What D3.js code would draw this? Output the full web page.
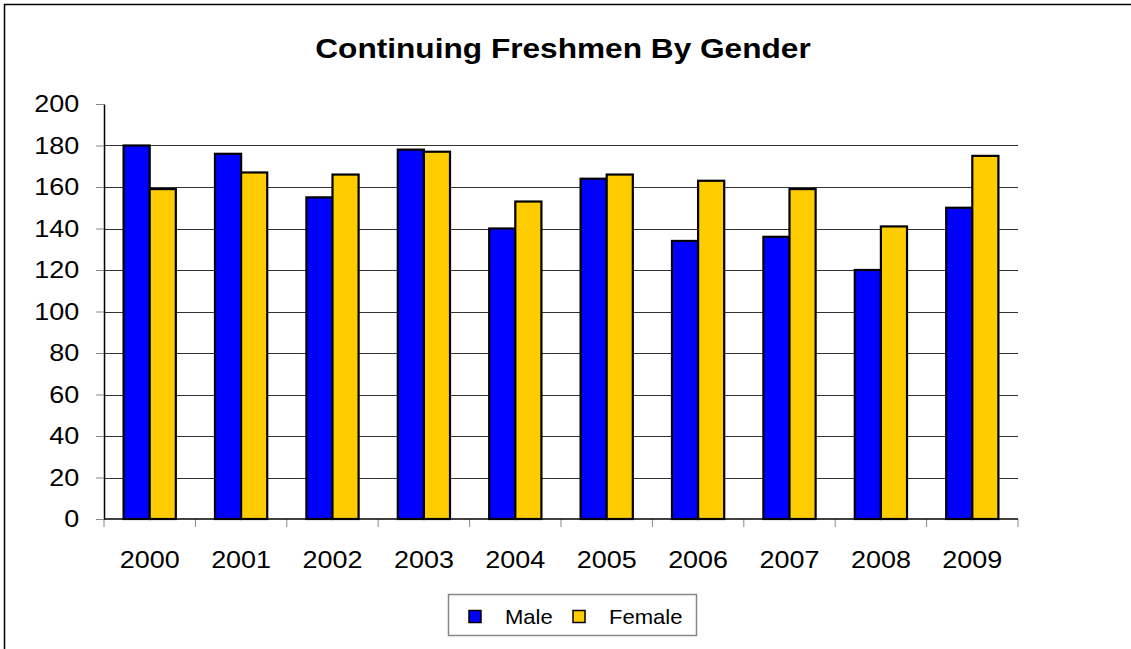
<!DOCTYPE html>
<html>
<head>
<meta charset="utf-8">
<script src="https://cdn.jsdelivr.net/npm/d3@7"></script>
<style>
  body { margin: 0; background: #fff; }
  text { font-family: "Liberation Sans", Arial, sans-serif; }
</style>
</head>
<body>
<div id="chart-area"></div>
<script>
// data
var years = ["2000", "2001", "2002", "2003", "2004", "2005", "2006", "2007", "2008", "2009"];
var series = ["Male", "Female"];
var male = [180, 176, 155, 178, 140, 164, 134, 136, 120, 150];
var female = [159, 167, 166, 177, 153, 166, 163, 159, 141, 175];
var yTicks = [0, 20, 40, 60, 80, 100, 120, 140, 160, 180, 200];
var colors = ["#0000ff", "#ffcc00"];

var W = 1131, H = 649;
var sx = 1.1; // original text is a bit wider than Liberation Sans

var margin = { left: 104, right: 113, top: 104, bottom: 130 };
var width = W - margin.left - margin.right;
var height = H - margin.top - margin.bottom;

var svg = d3.select("#chart-area").append("svg")
    .attr("width", W)
    .attr("height", H);

// outer frame (runs off the right and bottom)
svg.append("rect")
    .attr("x", 4.5).attr("y", 4.5)
    .attr("width", W + 10).attr("height", H + 10)
    .attr("fill", "none")
    .attr("stroke", "#000")
    .attr("stroke-width", 1.5);

// title
svg.append("text")
    .attr("transform", "translate(563, 58) scale(1.13,1)")
    .attr("text-anchor", "middle")
    .attr("font-size", "28px")
    .attr("font-weight", "bold")
    .text("Continuing Freshmen By Gender");

var g = svg.append("g")
    .attr("transform", "translate(" + margin.left + ", " + margin.top + ")");

var x = d3.scaleBand()
    .domain(years)
    .range([0, width]);

var x1 = d3.scaleBand()
    .domain(series)
    .range([0, x.bandwidth()])
    .paddingOuter(0.75);

var y = d3.scaleLinear()
    .domain([0, 200])
    .range([height, 0]);

// gridlines
g.selectAll(".grid")
    .data(yTicks.filter(function(d) { return d > 0 && d < 200; }))
    .enter().append("line")
    .attr("class", "grid")
    .attr("x1", 0).attr("x2", width)
    .attr("y1", function(d) { return Math.round(y(d)) + 0.5; })
    .attr("y2", function(d) { return Math.round(y(d)) + 0.5; })
    .attr("stroke", "#333")
    .attr("stroke-width", 1);

// left axis
var leftAxis = d3.axisLeft(y).tickValues(yTicks).tickSize(8).tickSizeOuter(0).tickPadding(14.5);
var ga = g.append("g")
    .attr("class", "left axis")
    .call(leftAxis);
ga.select(".domain").attr("stroke", "#000").attr("stroke-width", 1.5);
ga.selectAll(".tick line").attr("stroke", "#888");
ga.selectAll(".tick text")
    .attr("font-size", "24.5px")
    .attr("font-family", "Liberation Sans, Arial, sans-serif")
    .attr("fill", "#000")
    .attr("transform", "scale(" + sx + ",1)");

// bottom axis: labels in the middle, ticks on the band edges
var bottomAxis = d3.axisBottom(x).tickSize(0).tickSizeOuter(0).tickPadding(32);
var gb = g.append("g")
    .attr("class", "bottom axis")
    .attr("transform", "translate(0, " + height + ")")
    .call(bottomAxis);
gb.select(".domain").attr("stroke", "none");
gb.selectAll(".tick text")
    .attr("font-size", "24.5px")
    .attr("font-family", "Liberation Sans, Arial, sans-serif")
    .attr("fill", "#000")
    .attr("transform", "scale(" + sx + ",1)");

var edges = years.map(function(d) { return x(d); }).concat([width]);
gb.selectAll(".edge")
    .data(edges)
    .enter().append("line")
    .attr("class", "edge")
    .attr("x1", function(d) { return d; })
    .attr("x2", function(d) { return d; })
    .attr("y1", 0).attr("y2", 8)
    .attr("stroke", "#888");

// bars
var rows = years.map(function(yr, i) {
    return { year: yr, values: [
        { name: "Male", count: male[i] },
        { name: "Female", count: female[i] }
    ] };
});

var groups = g.selectAll(".year")
    .data(rows)
    .enter().append("g")
    .attr("class", "year")
    .attr("transform", function(d) { return "translate(" + x(d.year) + ",0)"; });

groups.selectAll("rect")
    .data(function(d) { return d.values; })
    .enter().append("rect")
    .attr("x", function(d) { return x1(d.name); })
    .attr("y", function(d) { return y(d.count); })
    .attr("width", x1.bandwidth())
    .attr("height", function(d) { return height - y(d.count); })
    .attr("fill", function(d, i) { return colors[i]; })
    .attr("stroke", "#000")
    .attr("stroke-width", 2.2);

// x axis line on top of bars
g.append("line")
    .attr("x1", 0).attr("x2", width)
    .attr("y1", height).attr("y2", height)
    .attr("stroke", "#000")
    .attr("stroke-width", 1.5);

// legend
var legend = svg.append("g").attr("transform", "translate(448, 594)");
legend.append("rect")
    .attr("x", 0.5).attr("y", 0.5)
    .attr("width", 248).attr("height", 41)
    .attr("fill", "#fff")
    .attr("stroke", "#888")
    .attr("stroke-width", 1.5);

var legendX = [21, 125];
var item = legend.selectAll(".item")
    .data(series)
    .enter().append("g")
    .attr("class", "item")
    .attr("transform", function(d, i) { return "translate(" + legendX[i] + ",0)"; });

item.append("rect")
    .attr("x", 0).attr("y", 16.5)
    .attr("width", 12).attr("height", 12)
    .attr("fill", function(d, i) { return colors[i]; })
    .attr("stroke", "#000")
    .attr("stroke-width", 1.5);

item.append("text")
    .attr("transform", "translate(36, 29.5) scale(1.05,1)")
    .attr("font-size", "21px")
    .text(function(d) { return d; });
</script>
</body>
</html>
